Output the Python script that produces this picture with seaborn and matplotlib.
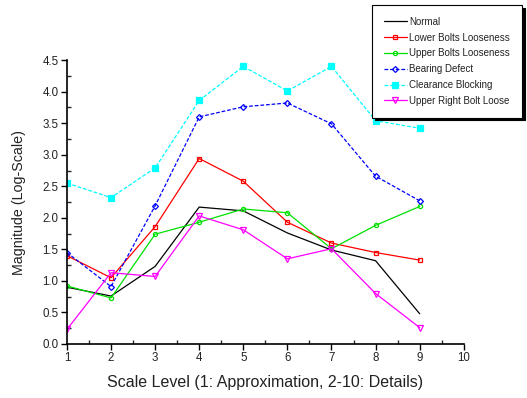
import matplotlib
matplotlib.use("Agg")
import matplotlib.pyplot as plt
import seaborn as sns
import pandas as pd
from matplotlib.ticker import MultipleLocator

scale_levels = [1, 2, 3, 4, 5, 6, 7, 8, 9]
normal = [0.90, 0.76, 1.23, 2.17, 2.11, 1.76, 1.49, 1.32, 0.48]
lower_bolts = [1.40, 1.05, 1.86, 2.94, 2.58, 1.93, 1.60, 1.45, 1.33]
upper_bolts = [0.92, 0.73, 1.74, 1.93, 2.14, 2.08, 1.51, 1.88, 2.18]
bearing = [1.45, 0.91, 2.19, 3.60, 3.76, 3.82, 3.49, 2.66, 2.27]
clearance = [2.55, 2.32, 2.79, 3.86, 4.40, 4.01, 4.40, 3.54, 3.42]
upper_right = [0.23, 1.13, 1.07, 2.03, 1.81, 1.35, 1.51, 0.80, 0.26]

series_names = ["Normal", "Lower Bolts Looseness", "Upper Bolts Looseness",
                "Bearing Defect", "Clearance Blocking", "Upper Right Bolt Loose"]
series_values = [normal, lower_bolts, upper_bolts, bearing, clearance, upper_right]

styles = [
    dict(color="black", ls="-", marker=None, mfc="none", ms=0),
    dict(color="red", ls="-", marker="s", mfc="none", ms=3.5),
    dict(color="#00e000", ls="-", marker="o", mfc="none", ms=3),
    dict(color="blue", ls=(0, (3, 1.5)), marker="D", mfc="none", ms=3),
    dict(color="cyan", ls=(0, (3, 1.5)), marker="s", mfc="cyan", ms=4),
    dict(color="magenta", ls="-", marker="v", mfc="none", ms=4.5),
]

sns.set_style("ticks")
plt.rcParams["font.family"] = ["Liberation Sans", "DejaVu Sans"]

fig = plt.figure(figsize=(5.27, 3.98), dpi=100)
ax = fig.add_axes([0.127, 0.1357, 0.753, 0.7133])

for name, vals, st in zip(series_names, series_values, styles):
    df = pd.DataFrame({"x": scale_levels, "y": vals})
    sns.lineplot(data=df, x="x", y="y", ax=ax, color=st["color"], linestyle=st["ls"],
                 marker=st["marker"], markerfacecolor=st["mfc"],
                 markeredgecolor=st["color"], markersize=st["ms"], markeredgewidth=0.9,
                 linewidth=0.9, label=name)

ax.set_xlim(1, 10)
ax.set_ylim(0, 4.5)
ax.xaxis.set_major_locator(MultipleLocator(1))
ax.xaxis.set_minor_locator(MultipleLocator(0.5))
ax.yaxis.set_major_locator(MultipleLocator(0.5))
ax.yaxis.set_minor_locator(MultipleLocator(0.25))
ax.tick_params(axis="both", which="major", direction="out", length=4, width=1,
               labelsize=8.3, pad=2, colors="black", labelcolor="#222222")
ax.tick_params(axis="both", which="minor", direction="in", length=3, width=1)
for s in ["top", "right"]:
    ax.spines[s].set_visible(False)
for s in ["left", "bottom"]:
    ax.spines[s].set_linewidth(1.2)
    ax.spines[s].set_color("black")

ax.set_xlabel("Scale Level (1: Approximation, 2-10: Details)", fontsize=11.5, labelpad=8,
              color="#222222")
ax.set_ylabel("Magnitude (Log-Scale)", fontsize=10.3, labelpad=12, color="#222222")

leg = ax.legend(loc="upper left", bbox_to_anchor=(0.770, 1.194), fontsize=7,
                frameon=True, fancybox=False, shadow={"color": "black", "alpha": 1},
                edgecolor="black", framealpha=1, handlelength=2.3, borderpad=1.2,
                labelspacing=0.6, handletextpad=0.3, borderaxespad=0)
leg.get_frame().set_linewidth(0.8)
for t in leg.get_texts():
    t.set_color("#222222")

fig.savefig("out.png", dpi=100)
